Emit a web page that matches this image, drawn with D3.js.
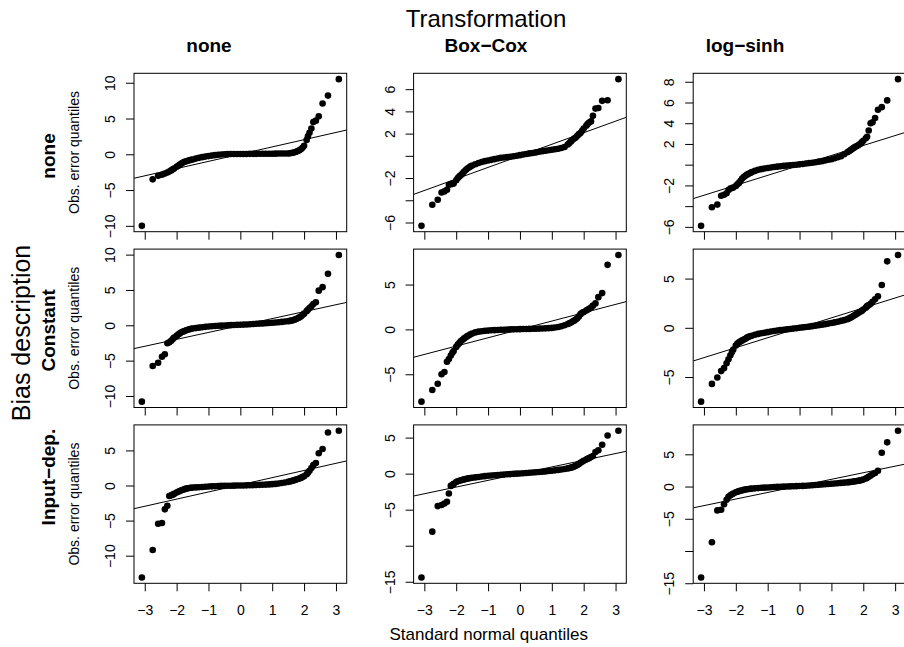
<!DOCTYPE html>
<html>
<head>
<meta charset="utf-8">
<script src="https://cdn.jsdelivr.net/npm/d3@7"></script>
<style>
  html, body { margin: 0; padding: 0; background: #ffffff; }
  svg { display: block; font-family: "Liberation Sans", Arial, Helvetica, sans-serif; }
</style>
</head>
<body>
<script>
// ---------- DATA ----------
const transformations = ["none", "Box\u2212Cox", "log\u2212sinh"];
const biasDescriptions = ["none", "Constant", "Input\u2212dep."];
const xTickValues = [-3, -2, -1, 0, 1, 2, 3];
const xTickLabels = ["\u22123", "\u22122", "\u22121", "0", "1", "2", "3"];

// Standard normal (theoretical) quantiles at which the observed quantiles were read
const theoreticalQuantiles = [
  -3.09, -2.75, -2.58, -2.46, -2.37, -2.29, -2.23, -2.17, -2.12, -2.08,
  -2.0, -1.95, -1.9, -1.85, -1.8, -1.75, -1.7, -1.65, -1.6, -1.55, -1.5,
  -1.4, -1.3, -1.2, -1.1, -1.0, -0.9, -0.8, -0.7, -0.6, -0.5, -0.4, -0.3, -0.2, -0.1,
  0, 0.1, 0.2, 0.3, 0.4, 0.5, 0.6, 0.7, 0.8, 0.9, 1.0, 1.1, 1.2, 1.3, 1.4,
  1.5, 1.55, 1.6, 1.65, 1.7, 1.75, 1.8, 1.85, 1.9, 1.95, 2.0,
  2.08, 2.12, 2.17, 2.23, 2.29, 2.37, 2.46, 2.58, 2.75, 3.09
];

// Observed error quantiles (rows: bias description, columns: transformation)
const obsNoneNone = [
  -10.0, -3.5, -3.0, -2.85, -2.7, -2.55, -2.4, -2.25, -2.1, -2.0,
  -1.75, -1.6, -1.45, -1.3, -1.15, -1.05, -0.97, -0.9, -0.84, -0.78, -0.72,
  -0.6, -0.5, -0.4, -0.32, -0.25, -0.18, -0.12, -0.07, -0.03, 0.0, 0.02, 0.03, 0.04, 0.04,
  0.05, 0.05, 0.05, 0.06, 0.06, 0.06, 0.07, 0.07, 0.07, 0.08, 0.08, 0.09, 0.1, 0.1, 0.11,
  0.12, 0.15, 0.18, 0.22, 0.28, 0.35, 0.45, 0.55, 0.7, 0.9, 1.2,
  2.0, 2.5, 3.0, 3.6, 4.5, 4.7, 5.3, 7.1, 8.2, 10.5
];
const obsNoneBoxCox = [
  -6.3, -4.4, -3.95, -3.3, -3.2, -3.05, -2.6, -2.55, -2.52, -2.48,
  -2.2, -2.0, -1.85, -1.72, -1.58, -1.42, -1.28, -1.15, -1.05, -0.95, -0.87,
  -0.76, -0.65, -0.56, -0.48, -0.42, -0.36, -0.3, -0.24, -0.18, -0.15, -0.11, -0.08, -0.04, 0.01,
  0.06, 0.12, 0.17, 0.22, 0.26, 0.31, 0.37, 0.42, 0.46, 0.5, 0.55, 0.59, 0.64, 0.7, 0.8,
  1.02, 1.15, 1.3, 1.45, 1.55, 1.65, 1.8, 1.95, 2.05, 2.25, 2.45,
  2.7, 2.85, 3.0, 3.1, 3.6, 4.25, 4.3, 4.95, 5.0, 6.9
];
const obsNoneLogSinh = [
  -5.9, -4.1, -3.85, -3.0, -2.9, -2.75, -2.45, -2.3, -2.25, -2.2,
  -2.05, -1.9, -1.76, -1.55, -1.34, -1.2, -1.08, -0.96, -0.88, -0.8, -0.72,
  -0.6, -0.5, -0.43, -0.37, -0.32, -0.27, -0.23, -0.19, -0.15, -0.12, -0.09, -0.06, -0.03, 0.0,
  0.03, 0.07, 0.11, 0.15, 0.19, 0.24, 0.29, 0.34, 0.4, 0.47, 0.53, 0.62, 0.72, 0.82, 1.0,
  1.2, 1.3, 1.4, 1.52, 1.62, 1.72, 1.8, 1.9, 2.0, 2.15, 2.3,
  2.55, 2.7, 3.3, 4.0, 4.1, 4.5, 5.3, 5.55, 6.2, 8.25
];
const obsConstantNone = [
  -10.8, -5.75, -5.3, -4.45, -4.1, -2.55, -2.4, -2.2, -1.95, -1.75,
  -1.5, -1.3, -1.15, -1.0, -0.9, -0.8, -0.7, -0.62, -0.56, -0.5, -0.46,
  -0.4, -0.33, -0.27, -0.22, -0.17, -0.13, -0.1, -0.07, -0.05, -0.02, 0.0, 0.02, 0.04, 0.06,
  0.08, 0.1, 0.12, 0.15, 0.18, 0.21, 0.24, 0.27, 0.3, 0.33, 0.36, 0.4, 0.44, 0.48, 0.53,
  0.58, 0.62, 0.66, 0.72, 0.8, 0.9, 1.0, 1.12, 1.25, 1.45, 1.65,
  2.0, 2.2, 2.45, 2.7, 3.0, 3.25, 4.9, 5.4, 7.3, 9.95
];
const obsConstantBoxCox = [
  -8.05, -6.75, -6.05, -5.0, -4.75, -3.6, -3.3, -2.9, -2.6, -2.4,
  -1.95, -1.7, -1.5, -1.3, -1.15, -1.0, -0.87, -0.75, -0.65, -0.55, -0.45,
  -0.33, -0.25, -0.2, -0.16, -0.13, -0.1, -0.08, -0.06, -0.04, -0.03, -0.01, 0.0, 0.01, 0.02,
  0.03, 0.04, 0.05, 0.06, 0.07, 0.08, 0.09, 0.1, 0.12, 0.14, 0.17, 0.21, 0.27, 0.36, 0.46,
  0.6, 0.68, 0.77, 0.87, 0.98, 1.1, 1.25, 1.45, 1.7, 1.85, 1.95,
  2.1, 2.2, 2.3, 2.45, 2.65, 2.9, 3.6, 4.05, 7.2, 8.3
];
const obsConstantLogSinh = [
  -7.5, -5.7, -5.05, -4.4, -4.1, -3.6, -3.2, -2.8, -2.45, -2.2,
  -1.8, -1.6, -1.48, -1.38, -1.28, -1.2, -1.12, -1.0, -0.92, -0.86, -0.8,
  -0.7, -0.62, -0.55, -0.5, -0.44, -0.38, -0.32, -0.28, -0.24, -0.2, -0.16, -0.12, -0.08, -0.04,
  0.0, 0.04, 0.08, 0.12, 0.17, 0.22, 0.27, 0.32, 0.37, 0.43, 0.49, 0.55, 0.62, 0.7, 0.78,
  0.88, 0.95, 1.03, 1.12, 1.22, 1.32, 1.42, 1.52, 1.62, 1.72, 1.85,
  2.05, 2.2, 2.3, 2.45, 2.65, 2.9, 3.2, 4.35, 6.75, 7.4
];
const obsInputNone = [
  -13.1, -9.2, -5.45, -5.35, -3.4, -2.9, -1.5, -1.4, -1.3, -1.2,
  -1.0, -0.9, -0.78, -0.68, -0.6, -0.52, -0.45, -0.4, -0.36, -0.33, -0.3,
  -0.27, -0.24, -0.21, -0.18, -0.15, -0.12, -0.1, -0.08, -0.06, -0.05, -0.04, -0.03, -0.02, -0.01,
  0.0, 0.01, 0.02, 0.04, 0.05, 0.07, 0.09, 0.11, 0.13, 0.16, 0.19, 0.23, 0.28, 0.35, 0.43,
  0.52, 0.57, 0.63, 0.7, 0.76, 0.84, 0.92, 1.0, 1.08, 1.2, 1.32,
  1.6, 1.8, 2.1, 2.5, 2.9, 3.2, 4.6, 5.2, 7.55, 7.8
];
const obsInputBoxCox = [
  -14.4, -8.05, -4.5, -4.35, -4.15, -3.9, -2.75, -1.7, -1.55, -1.42,
  -1.15, -1.05, -0.98, -0.92, -0.86, -0.8, -0.74, -0.69, -0.65, -0.61, -0.57,
  -0.52, -0.46, -0.4, -0.35, -0.3, -0.26, -0.22, -0.18, -0.15, -0.12, -0.09, -0.06, -0.03, 0.0,
  0.03, 0.06, 0.09, 0.12, 0.15, 0.19, 0.23, 0.27, 0.31, 0.36, 0.41, 0.46, 0.52, 0.58, 0.65,
  0.73, 0.78, 0.83, 0.9, 0.98, 1.08, 1.2, 1.35, 1.52, 1.65, 1.78,
  1.95, 2.05, 2.15, 2.3, 2.45, 3.0, 3.25, 4.0, 5.3, 5.95
];
const obsInputLogSinh = [
  -14.1, -8.65, -3.7, -3.6, -2.75, -2.05, -1.6, -1.35, -1.2, -1.08,
  -0.9, -0.8, -0.72, -0.65, -0.58, -0.52, -0.47, -0.43, -0.39, -0.36, -0.33,
  -0.28, -0.24, -0.2, -0.17, -0.14, -0.11, -0.08, -0.06, -0.04, -0.02, 0.0, 0.02, 0.04, 0.06,
  0.08, 0.1, 0.13, 0.16, 0.2, 0.24, 0.28, 0.32, 0.36, 0.4, 0.44, 0.48, 0.52, 0.56, 0.6,
  0.65, 0.68, 0.71, 0.74, 0.78, 0.82, 0.86, 0.9, 0.95, 1.02, 1.1,
  1.25, 1.35, 1.5, 1.7, 1.9, 2.1, 2.45, 5.25, 6.85, 8.65
];

// Reference (qq) line per panel, row-major
const qqLineIntercepts = [0.02, 0.0, -0.07, -0.03, 0.0, 0.0, 0.1, 0.0, 0.1];
const qqLineSlopes     = [1.01, 1.04, 0.96, 0.98, 0.93, 1.01, 1.02, 0.93, 1.02];

// Y ticks per panel, row-major ("" = tick without label)
const yTickValues = [
  [-10, -5, 0, 5, 10],
  [-6, -4, -2, 0, 2, 4, 6],
  [-6, -4, -2, 0, 2, 4, 6, 8],
  [-10, -5, 0, 5, 10],
  [-5, 0, 5],
  [-5, 0, 5],
  [-10, -5, 0, 5],
  [-15, -10, -5, 0, 5],
  [-15, -10, -5, 0, 5]
];
const yTickLabels = [
  ["\u221210", "\u22125", "0", "5", "10"],
  ["\u22126", "", "\u22122", "", "2", "4", "6"],
  ["\u22126", "", "\u22122", "", "2", "4", "6", "8"],
  ["\u221210", "\u22125", "0", "5", "10"],
  ["\u22125", "0", "5"],
  ["\u22125", "0", "5"],
  ["\u221210", "\u22125", "0", "5"],
  ["\u221215", "", "\u22125", "0", "5"],
  ["\u221215", "", "\u22125", "0", "5"]
];

const panelObs = [
  obsNoneNone, obsNoneBoxCox, obsNoneLogSinh,
  obsConstantNone, obsConstantBoxCox, obsConstantLogSinh,
  obsInputNone, obsInputBoxCox, obsInputLogSinh
];

// ---------- LAYOUT ----------
const W = 904, H = 647;
const boxLeft0 = 134, boxTop0 = 73.3;
const colStep = 279.6, rowStep = 175.8;
const boxW = 212.7, boxH = 158.4;
const tickLen = 8;
const fontTick = 14;

const svg = d3.select("body").append("svg")
  .attr("width", W).attr("height", H)
  .attr("viewBox", `0 0 ${W} ${H}`);

svg.append("rect").attr("width", W).attr("height", H).attr("fill", "#fff");

function padded(ext) {
  const p = (ext[1] - ext[0]) * 0.04;
  return [ext[0] - p, ext[1] + p];
}

const defs = svg.append("defs");

for (let r = 0; r < 3; r++) {
  for (let c = 0; c < 3; c++) {
    const k = r * 3 + c;
    const x0 = boxLeft0 + c * colStep;
    const y0 = boxTop0 + r * rowStep;
    const vals = panelObs[k];
    const data = theoreticalQuantiles.map((q, i) => ({ q, v: vals[i] }));

    const xs = d3.scaleLinear().domain(padded(d3.extent(theoreticalQuantiles))).range([x0, x0 + boxW]);
    const ys = d3.scaleLinear().domain(padded(d3.extent(vals))).range([y0 + boxH, y0]);

    const g = svg.append("g");

    const cid = "clip" + k;
    defs.append("clipPath").attr("id", cid)
      .append("rect").attr("x", x0).attr("y", y0).attr("width", boxW).attr("height", boxH);

    const xAxis = d3.axisBottom(xs)
      .tickValues(xTickValues)
      .tickSize(tickLen)
      .tickPadding(13.4)
      .tickFormat((d, i) => r === 2 ? xTickLabels[i] : "");
    const gx = g.append("g").attr("transform", `translate(0,${y0 + boxH})`).call(xAxis);
    gx.select(".domain").remove();
    gx.selectAll("line").attr("stroke", "#000").attr("stroke-width", 1);
    gx.selectAll("text").attr("fill", "#000").attr("font-size", fontTick)
      .attr("font-family", "Liberation Sans, Arial, sans-serif");

    const yAxis = d3.axisLeft(ys)
      .tickValues(yTickValues[k])
      .tickSize(tickLen)
      .tickFormat((d, i) => yTickLabels[k][i]);
    const gy = g.append("g").attr("transform", `translate(${x0},0)`).call(yAxis);
    gy.select(".domain").remove();
    gy.selectAll("line").attr("stroke", "#000").attr("stroke-width", 1);
    gy.selectAll("text")
      .attr("x", null).attr("dy", null)
      .attr("text-anchor", "middle")
      .attr("transform", "translate(-19,0) rotate(-90)")
      .attr("fill", "#000").attr("font-size", fontTick)
      .attr("font-family", "Liberation Sans, Arial, sans-serif");

    const dom = xs.domain();
    const a = qqLineIntercepts[k], b = qqLineSlopes[k];
    g.append("line")
      .attr("clip-path", `url(#${cid})`)
      .attr("x1", xs(dom[0])).attr("y1", ys(a + b * dom[0]))
      .attr("x2", xs(dom[1])).attr("y2", ys(a + b * dom[1]))
      .attr("stroke", "#000").attr("stroke-width", 1);

    g.append("g").selectAll("circle").data(data).join("circle")
      .attr("cx", d => xs(d.q)).attr("cy", d => ys(d.v))
      .attr("r", 3.3).attr("fill", "#000");

    g.append("rect")
      .attr("x", x0).attr("y", y0).attr("width", boxW).attr("height", boxH)
      .attr("fill", "none").attr("stroke", "#000").attr("stroke-width", 1);

    if (c === 0) {
      svg.append("text")
        .attr("transform", `translate(79,${y0 + boxH / 2}) rotate(-90)`)
        .attr("text-anchor", "middle").attr("font-size", 14).attr("fill", "#000")
        .text("Obs. error quantiles");
    }
  }
}

const colTitleX = [209, 486, 745];
transformations.forEach((t, i) => {
  svg.append("text").attr("x", colTitleX[i]).attr("y", 51.7)
    .attr("text-anchor", "middle").attr("font-size", 19).attr("font-weight", "bold")
    .attr("fill", "#000").text(t);
});

const rowTitleOffset = [3.5, 2, -27];
biasDescriptions.forEach((t, i) => {
  const cy = boxTop0 + i * rowStep + boxH / 2 + rowTitleOffset[i];
  svg.append("text").attr("transform", `translate(55,${cy}) rotate(-90)`)
    .attr("text-anchor", "middle").attr("font-size", 19).attr("font-weight", "bold")
    .attr("fill", "#000").text(t);
});

svg.append("text").attr("x", 486).attr("y", 26.7).attr("text-anchor", "middle")
  .attr("font-size", 24).attr("fill", "#000").text("Transformation");
svg.append("text").attr("transform", "translate(30,333) rotate(-90)")
  .attr("text-anchor", "middle").attr("font-size", 25).attr("fill", "#000").text("Bias description");
svg.append("text").attr("x", 488.7).attr("y", 640).attr("text-anchor", "middle")
  .attr("font-size", 17).attr("fill", "#000").text("Standard normal quantiles");
</script>
</body>
</html>
